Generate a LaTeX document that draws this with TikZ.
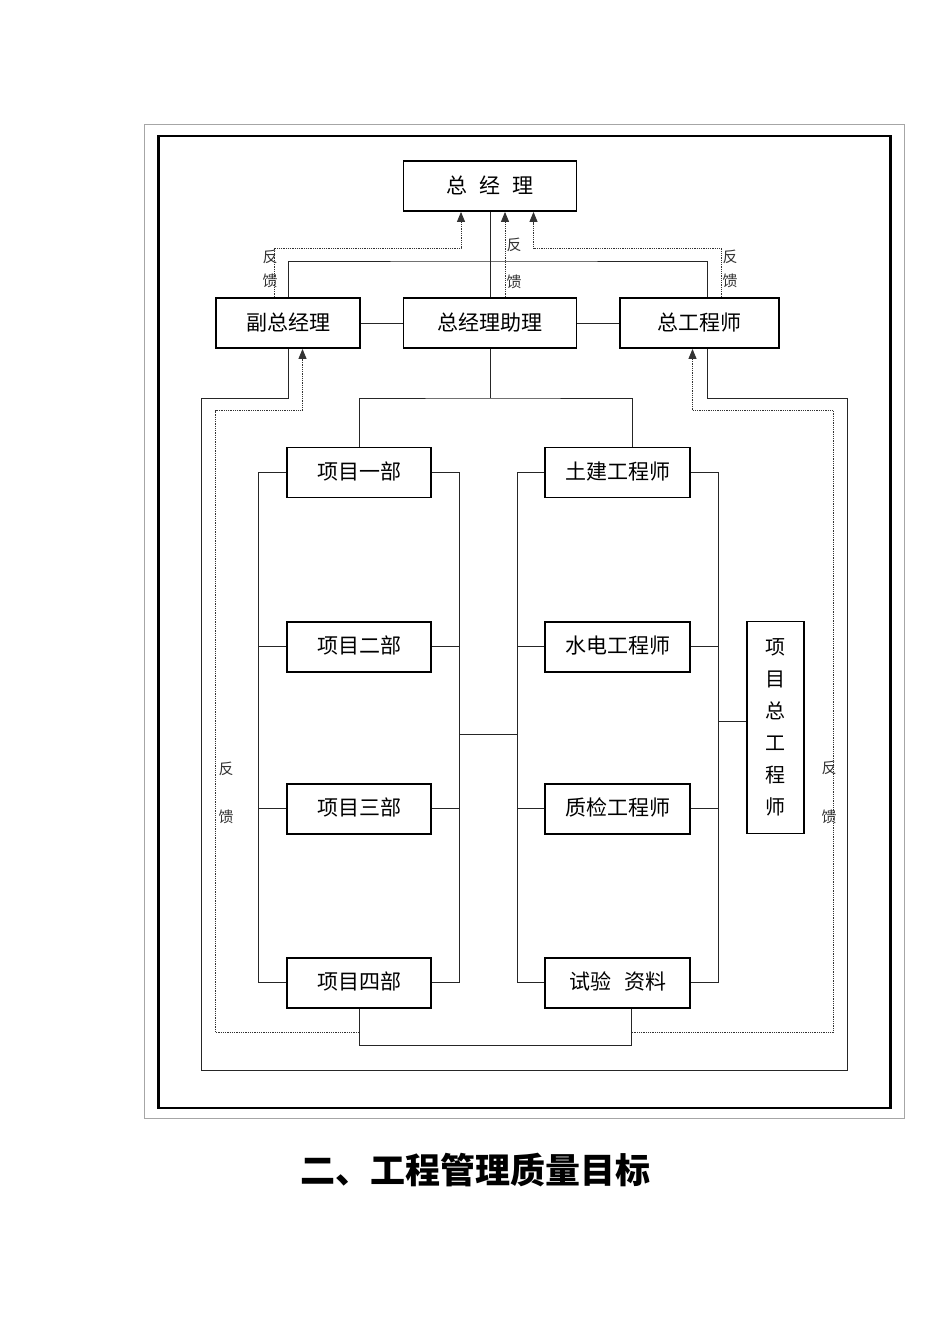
\documentclass[tikz,border=0pt]{standalone}
\usepackage{fontspec}
\newfontfamily\cjk{Noto Sans CJK SC}
\usetikzlibrary{arrows.meta,calc}
\begin{document}
\begin{tikzpicture}[x=1pt,y=-1pt,
  box/.style={draw,line width=1.8pt,minimum height=50pt,inner sep=0pt,font=\cjk\fontsize{21}{21}\selectfont},
  conn/.style={line width=0.9pt,draw=black!85},
  fb/.style={line width=0.9pt,draw=black!80,dash pattern=on 1pt off 0.8pt},
  fbar/.style={fb,-{Triangle[width=8pt,length=10pt]}},
  lab/.style={font=\cjk\fontsize{15}{15}\selectfont,inner sep=0pt,text=black!80}]
\fill[white] (0,0) rectangle (950,1344);
\useasboundingbox (0,0) rectangle (950,1344);
\draw[black!35,line width=0.8pt] (144,124) rectangle (904,1118);
\draw[line width=2.6pt] (158.5,136) rectangle (890.5,1108);

% top level
\node[box,minimum width=173pt] (zjl) at (490,186) {\raisebox{3pt}{总\hspace{0.55em}经\hspace{0.55em}理}};
\node[box,minimum width=144pt] (fz) at (288,323) {\raisebox{2pt}{副总经理}};
\node[box,minimum width=173pt] (zz) at (490,323) {\raisebox{2pt}{总经理助理}};
\node[box,minimum width=159pt] (zgc) at (699.5,323) {\raisebox{2pt}{总工程师}};

% left group
\node[box,minimum width=144pt] (x1) at (359,472.5) {\raisebox{4pt}{项目一部}};
\node[box,minimum width=144pt] (x2) at (359,646.7) {\raisebox{4pt}{项目二部}};
\node[box,minimum width=144pt] (x3) at (359,808.7) {\raisebox{4pt}{项目三部}};
\node[box,minimum width=144pt] (x4) at (359,982.7) {\raisebox{4pt}{项目四部}};
% right group
\node[box,minimum width=145pt] (t1) at (617.7,472.5) {\raisebox{4pt}{土建工程师}};
\node[box,minimum width=145pt] (t2) at (617.7,646.7) {\raisebox{4pt}{水电工程师}};
\node[box,minimum width=145pt] (t3) at (617.7,808.7) {\raisebox{4pt}{质检工程师}};
\node[box,minimum width=145pt] (t4) at (617.7,982.7) {\raisebox{4pt}{试验\hspace{0.6em}资料}};
\node[box,minimum width=57.6pt,minimum height=212pt,align=center,font=\cjk\fontsize{20}{32}\selectfont] (xm) at (775.5,727.5) {项\\目\\总\\工\\程\\师};

% coordinates
\coordinate (top) at (490,261);
\coordinate (fbL) at (400,248);
\coordinate (fbR) at (600,248);
\coordinate (mid) at (490,398);
\coordinate (oTL) at (201,398);
\coordinate (oBL) at (201,1070);
\coordinate (oBR) at (847.7,1070);
\coordinate (oTR) at (847.7,398);
\coordinate (dL0) at (359,1032.7);
\coordinate (dL1) at (215.7,1032.7);
\coordinate (dL2) at (215.7,410.5);
\coordinate (dR0) at (631.7,1032.7);
\coordinate (dR1) at (833.3,1032.7);
\coordinate (dR2) at (833.3,410.5);
\coordinate (bot) at (500,1045);
\coordinate (lbL) at (258.7,472.5);
\coordinate (lbR) at (459.3,472.5);
\coordinate (rbL) at (517.3,472.5);
\coordinate (rbR) at (718.3,472.5);
\coordinate (linkL) at (459.3,734);
\coordinate (linkR) at (517.3,734);
\coordinate (xmL) at (718.3,721.7);

% top connectors
\draw[conn] (zjl.south) -- (zz.north);
\draw[conn] (fz.north) |- (top) -| ([xshift=7.5pt]zgc.north);
\draw[conn] (fz.east) -- (zz.west);
\draw[conn] (zz.east) -- (zgc.west);
\draw[fbar] ([xshift=-14pt]fz.north) |- (fbL) -| ([xshift=-29pt]zjl.south);
\draw[fbar] ([xshift=15pt]zz.north) -- ([xshift=15pt]zjl.south);
\draw[fbar] ([xshift=21.5pt]zgc.north) |- (fbR) -| ([xshift=43.5pt]zjl.south);

% middle
\draw[conn] (zz.south) -- (mid);
\draw[conn] (x1.north) |- (mid) -| ([xshift=14.3pt]t1.north);

% outer solid loop
\draw[conn] (fz.south) |- (oTL) -- (oBL) -- (oBR) -- (oTR) -| ([xshift=7.5pt]zgc.south);
% dotted feedback loops
\draw[fbar] (dL0) -- (dL1) -- (dL2) -| ([xshift=14.5pt]fz.south);
\draw[fbar] (dR0) -- (dR1) -- (dR2) -| ([xshift=-7pt]zgc.south);

% bottom link
\draw[conn] (x4.south) |- (bot) -| ([xshift=14pt]t4.south);

% buses left group
\draw[conn] (x1.west) -- (lbL) -- (lbL |- x4.west) -- (x4.west);
\draw[conn] (x2.west) -- (x2.west -| lbL);
\draw[conn] (x3.west) -- (x3.west -| lbL);
\draw[conn] (x1.east) -- (lbR) -- (lbR |- x4.east) -- (x4.east);
\draw[conn] (x2.east) -- (x2.east -| lbR);
\draw[conn] (x3.east) -- (x3.east -| lbR);
% buses right group
\draw[conn] (t1.west) -- (rbL) -- (rbL |- t4.west) -- (t4.west);
\draw[conn] (t2.west) -- (t2.west -| rbL);
\draw[conn] (t3.west) -- (t3.west -| rbL);
\draw[conn] (t1.east) -- (rbR) -- (rbR |- t4.east) -- (t4.east);
\draw[conn] (t2.east) -- (t2.east -| rbR);
\draw[conn] (t3.east) -- (t3.east -| rbR);
% links
\draw[conn] (linkL) -- (linkR);
\draw[conn] (xmL) -- (xmL -| xm.west);

% feedback labels
\node[lab] (a1) at (270,257) {反};
\node[lab] (a2) at (270,281) {馈};
\node[lab] (b1) at (514,245) {反};
\node[lab] (b2) at (514,282) {馈};
\node[lab] (c1) at (730,257) {反};
\node[lab] (c2) at (730,281) {馈};
\node[lab] (d1) at (226,769) {反};
\node[lab] (d2) at (226,817) {馈};
\node[lab] (e1) at (829,768) {反};
\node[lab] (e2) at (829,817) {馈};

% title
\node[font=\cjk\bfseries\fontsize{35}{35}\selectfont,inner sep=0pt] (title) at (475.5,1170) {二、工程管理质量目标};
\end{tikzpicture}
\end{document}
